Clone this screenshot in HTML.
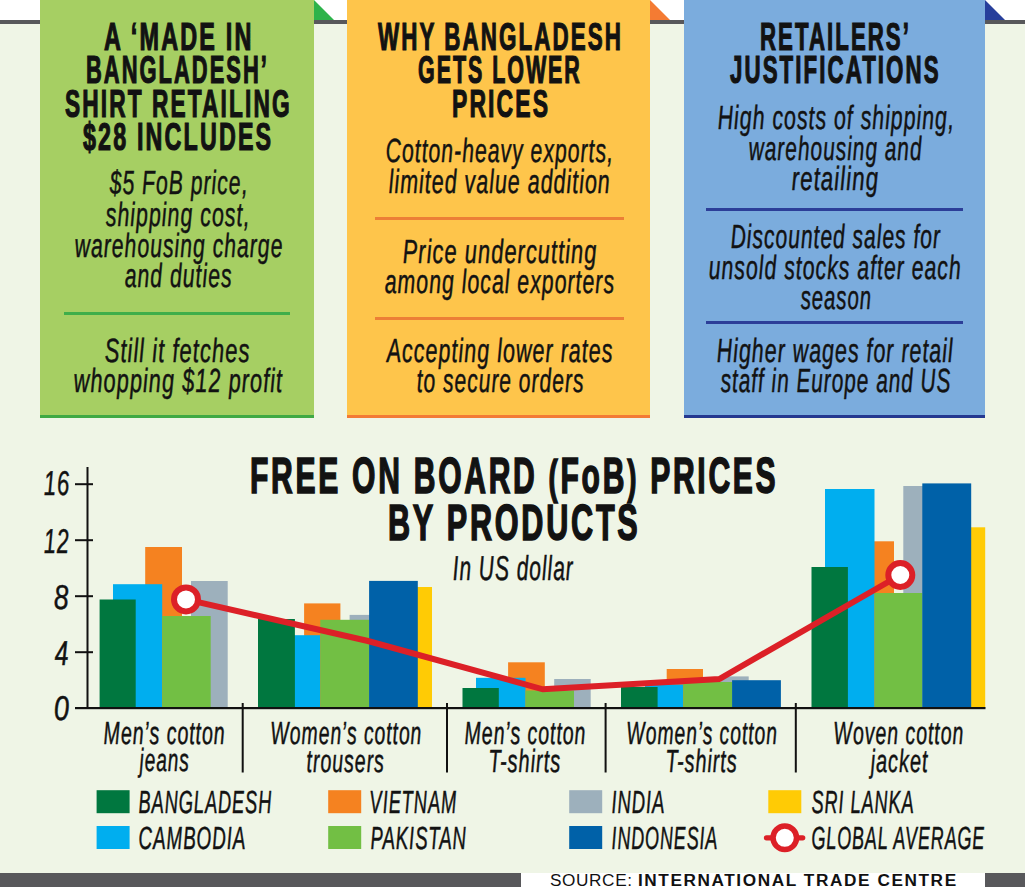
<!DOCTYPE html>
<html><head><meta charset="utf-8"><title>FoB prices infographic</title>
<style>
html,body{margin:0;padding:0;}
body{width:1025px;height:894px;position:relative;overflow:hidden;background:#fff;}
.blk{position:absolute;}
.t{position:absolute;transform-origin:0 0;}

.t{white-space:nowrap;color:#121212;}
.H{font-family:"Liberation Sans",sans-serif;font-weight:700;-webkit-text-stroke:1.2px #121212;letter-spacing:3.5px;}
.T{font-family:"Liberation Sans",sans-serif;font-weight:700;-webkit-text-stroke:1.6px #121212;letter-spacing:4.5px;}
.B{font-family:"Liberation Sans",sans-serif;font-style:italic;font-weight:400;letter-spacing:1.5px;-webkit-text-stroke:0.5px #121212;}
.S{font-family:"Liberation Sans",sans-serif;font-weight:400;letter-spacing:0.6px;color:#111;}
.S b{font-weight:700;letter-spacing:1.6px;}

.src{position:absolute;font-family:"Liberation Sans",sans-serif;font-size:16px;line-height:16px;white-space:nowrap;color:#111;transform-origin:0 0;}
</style></head>
<body>
<div class="blk" style="left:0;top:24px;width:1025px;height:849px;background:#eff5e6"></div>
<div class="blk" style="left:0;top:20px;width:1025px;height:4px;background:#58585b"></div>
<svg width="1025" height="30" style="position:absolute;left:0;top:0"><polygon points="314,0 314,20 334,20" fill="#2db34a"/><polygon points="650,0 650,20 670,20" fill="#f47b33"/><polygon points="985,0 985,20 1005,20" fill="#273f9b"/></svg>
<div class="blk" style="left:40px;top:0;width:274px;height:415px;background:#a6cf63"></div>
<div class="blk" style="left:40px;top:415px;width:274px;height:3px;background:#3fa944"></div>
<div class="blk" style="left:64px;top:312px;width:226px;height:3px;background:#3fae4a"></div>
<div class="blk" style="left:347px;top:0;width:303px;height:415px;background:#fec54b"></div>
<div class="blk" style="left:347px;top:415px;width:303px;height:3px;background:#f37a35"></div>
<div class="blk" style="left:374.6px;top:217.4px;width:249px;height:3px;background:#ec7f36"></div>
<div class="blk" style="left:374.6px;top:316.9px;width:249px;height:3px;background:#ec7f36"></div>
<div class="blk" style="left:684px;top:0;width:301px;height:415px;background:#7bacdd"></div>
<div class="blk" style="left:684px;top:415px;width:301px;height:3px;background:#243890"></div>
<div class="blk" style="left:706px;top:207.8px;width:257px;height:3px;background:#2c3e98"></div>
<div class="blk" style="left:706px;top:321.4px;width:257px;height:3px;background:#2c3e98"></div>
<svg width="1025" height="894" style="position:absolute;left:0;top:0"><rect x="86.5" y="467" width="2" height="242" fill="#111"/><rect x="75" y="483.2" width="18" height="2" fill="#111"/><rect x="75" y="539.2" width="18" height="2" fill="#111"/><rect x="75" y="595.2" width="18" height="2" fill="#111"/><rect x="75" y="651.2" width="18" height="2" fill="#111"/><rect x="145.2" y="547.0" width="36.80" height="161.00" fill="#f58220"/><rect x="191.0" y="581.0" width="36.70" height="127.00" fill="#9db0bc"/><rect x="113.0" y="584.2" width="49.20" height="123.80" fill="#00aeef"/><rect x="99.6" y="599.5" width="36.10" height="108.50" fill="#00773f"/><rect x="162.2" y="616.0" width="48.50" height="92.00" fill="#72bf44"/><rect x="304.1" y="603.4" width="36.30" height="104.60" fill="#f58220"/><rect x="349.6" y="614.9" width="30.40" height="93.10" fill="#9db0bc"/><rect x="400.0" y="587.0" width="32.00" height="121.00" fill="#ffcb05"/><rect x="285.0" y="635.2" width="35.30" height="72.80" fill="#00aeef"/><rect x="258.0" y="619.0" width="36.90" height="89.00" fill="#00773f"/><rect x="320.3" y="619.8" width="48.80" height="88.20" fill="#72bf44"/><rect x="369.1" y="580.9" width="48.70" height="127.10" fill="#0061a8"/><rect x="508.1" y="662.3" width="36.70" height="45.70" fill="#f58220"/><rect x="554.2" y="679.0" width="36.50" height="29.00" fill="#9db0bc"/><rect x="476.0" y="677.8" width="49.50" height="30.20" fill="#00aeef"/><rect x="462.5" y="688.0" width="36.30" height="20.00" fill="#00773f"/><rect x="525.5" y="690.5" width="48.50" height="17.50" fill="#72bf44"/><rect x="666.7" y="669.0" width="36.30" height="39.00" fill="#f58220"/><rect x="721.0" y="676.4" width="27.70" height="31.60" fill="#9db0bc"/><rect x="645.0" y="684.5" width="38.30" height="23.50" fill="#00aeef"/><rect x="621.0" y="687.0" width="36.60" height="21.00" fill="#00773f"/><rect x="683.3" y="682.0" width="48.80" height="26.00" fill="#72bf44"/><rect x="732.1" y="680.2" width="48.80" height="27.80" fill="#0061a8"/><rect x="857.0" y="541.3" width="37.00" height="166.70" fill="#f58220"/><rect x="903.3" y="486.0" width="36.70" height="222.00" fill="#9db0bc"/><rect x="950.0" y="527.3" width="35.20" height="180.70" fill="#ffcb05"/><rect x="825.0" y="489.0" width="49.50" height="219.00" fill="#00aeef"/><rect x="811.5" y="567.0" width="36.40" height="141.00" fill="#00773f"/><rect x="874.5" y="593.0" width="47.80" height="115.00" fill="#72bf44"/><rect x="922.3" y="483.4" width="48.90" height="224.60" fill="#0061a8"/><rect x="75" y="707" width="910.5" height="2.2" fill="#111"/><rect x="241.7" y="703" width="2" height="69.5" fill="#111"/><rect x="446.0" y="703" width="2" height="69.5" fill="#111"/><rect x="604.6" y="703" width="2" height="69.5" fill="#111"/><rect x="794.8" y="703" width="2" height="69.5" fill="#111"/><polyline points="186.0,599.4 368.0,641.0 542.8,689.3 719.3,679.0 900.3,575.0" fill="none" stroke="#dc2027" stroke-width="6" stroke-linejoin="miter"/><circle cx="186.0" cy="599.4" r="12" fill="#fff" stroke="#dc2027" stroke-width="6"/><circle cx="900.3" cy="575.0" r="12" fill="#fff" stroke="#dc2027" stroke-width="6"/><rect x="96.6" y="790.2" width="33" height="23" fill="#00773f"/><rect x="96.6" y="826.0" width="33" height="23" fill="#00aeef"/><rect x="328.2" y="790.2" width="33" height="23" fill="#f58220"/><rect x="328.2" y="826.0" width="33" height="23" fill="#72bf44"/><rect x="569.2" y="790.2" width="33" height="23" fill="#9db0bc"/><rect x="569.2" y="826.0" width="33" height="23" fill="#0061a8"/><rect x="768.3" y="790.2" width="33" height="23" fill="#ffcb05"/><line x1="766.5" y1="837.8" x2="802.7" y2="837.8" stroke="#dc2027" stroke-width="5.3" stroke-linecap="round"/><circle cx="784.8" cy="837.8" r="11.75" fill="#fff" stroke="#dc2027" stroke-width="5.5"/></svg>
<div class="blk" style="left:0;top:873px;width:520.5px;height:13.5px;background:#58585b"></div>
<div class="blk" style="left:985px;top:873px;width:40px;height:13.5px;background:#58585b"></div>
<div class="t H" style="left:104.30px;top:18.10px;font-size:38px;line-height:38px;transform:scaleX(0.6165) ">A ‘MADE IN</div>
<div class="t H" style="left:85.75px;top:51.00px;font-size:38px;line-height:38px;transform:scaleX(0.5765) ">BANGLADESH’</div>
<div class="t H" style="left:64.60px;top:84.90px;font-size:38px;line-height:38px;transform:scaleX(0.5981) ">SHIRT RETAILING</div>
<div class="t H" style="left:83.00px;top:118.00px;font-size:38px;line-height:38px;transform:scaleX(0.6134) ">$28 INCLUDES</div>
<div class="t B" style="left:108.57px;top:166.30px;font-size:33.5px;line-height:33.5px;transform:scaleX(0.6346) skewX(3deg)">$5 FoB price,</div>
<div class="t B" style="left:105.06px;top:197.50px;font-size:33.5px;line-height:33.5px;transform:scaleX(0.6407) skewX(3deg)">shipping cost,</div>
<div class="t B" style="left:73.63px;top:228.70px;font-size:33.5px;line-height:33.5px;transform:scaleX(0.6351) skewX(3deg)">warehousing charge</div>
<div class="t B" style="left:123.63px;top:258.80px;font-size:33.5px;line-height:33.5px;transform:scaleX(0.6361) skewX(3deg)">and duties</div>
<div class="t B" style="left:104.28px;top:333.50px;font-size:33.5px;line-height:33.5px;transform:scaleX(0.6583) skewX(3deg)">Still it fetches</div>
<div class="t B" style="left:72.59px;top:363.70px;font-size:33.5px;line-height:33.5px;transform:scaleX(0.6527) skewX(3deg)">whopping $12 profit</div>
<div class="t H" style="left:378.39px;top:17.90px;font-size:38px;line-height:38px;transform:scaleX(0.5893) ">WHY BANGLADESH</div>
<div class="t H" style="left:418.04px;top:51.00px;font-size:38px;line-height:38px;transform:scaleX(0.5640) ">GETS LOWER</div>
<div class="t H" style="left:451.69px;top:84.70px;font-size:38px;line-height:38px;transform:scaleX(0.6038) ">PRICES</div>
<div class="t B" style="left:385.09px;top:133.50px;font-size:33.5px;line-height:33.5px;transform:scaleX(0.6354) skewX(3deg)">Cotton-heavy exports,</div>
<div class="t B" style="left:388.22px;top:164.50px;font-size:33.5px;line-height:33.5px;transform:scaleX(0.6421) skewX(3deg)">limited value addition</div>
<div class="t B" style="left:402.19px;top:234.80px;font-size:33.5px;line-height:33.5px;transform:scaleX(0.6558) skewX(3deg)">Price undercutting</div>
<div class="t B" style="left:383.82px;top:264.50px;font-size:33.5px;line-height:33.5px;transform:scaleX(0.6380) skewX(3deg)">among local exporters</div>
<div class="t B" style="left:386.30px;top:333.70px;font-size:33.5px;line-height:33.5px;transform:scaleX(0.6450) skewX(3deg)">Accepting lower rates</div>
<div class="t B" style="left:415.54px;top:363.70px;font-size:33.5px;line-height:33.5px;transform:scaleX(0.6304) skewX(3deg)">to secure orders</div>
<div class="t H" style="left:760.33px;top:18.00px;font-size:38px;line-height:38px;transform:scaleX(0.5849) ">RETAILERS’</div>
<div class="t H" style="left:730.20px;top:51.00px;font-size:38px;line-height:38px;transform:scaleX(0.5873) ">JUSTIFICATIONS</div>
<div class="t B" style="left:716.92px;top:100.50px;font-size:33.5px;line-height:33.5px;transform:scaleX(0.6383) skewX(3deg)">High costs of shipping,</div>
<div class="t B" style="left:747.55px;top:131.80px;font-size:33.5px;line-height:33.5px;transform:scaleX(0.6264) skewX(3deg)">warehousing and</div>
<div class="t B" style="left:790.66px;top:161.50px;font-size:33.5px;line-height:33.5px;transform:scaleX(0.6680) skewX(3deg)">retailing</div>
<div class="t B" style="left:729.74px;top:219.50px;font-size:33.5px;line-height:33.5px;transform:scaleX(0.6304) skewX(3deg)">Discounted sales for</div>
<div class="t B" style="left:708.33px;top:250.50px;font-size:33.5px;line-height:33.5px;transform:scaleX(0.6372) skewX(3deg)">unsold stocks after each</div>
<div class="t B" style="left:799.59px;top:280.50px;font-size:33.5px;line-height:33.5px;transform:scaleX(0.6105) skewX(3deg)">season</div>
<div class="t B" style="left:715.82px;top:333.80px;font-size:33.5px;line-height:33.5px;transform:scaleX(0.6413) skewX(3deg)">Higher wages for retail</div>
<div class="t B" style="left:720.28px;top:363.60px;font-size:33.5px;line-height:33.5px;transform:scaleX(0.6236) skewX(3deg)">staff in Europe and US</div>
<div class="t T" style="left:250.00px;top:451.10px;font-size:50px;line-height:50px;transform:scaleX(0.6016) ">FREE ON BOARD <span style="font-size:92%">(</span>FoB<span style="font-size:92%">)</span> PRICES</div>
<div class="t T" style="left:387.98px;top:498.00px;font-size:50px;line-height:50px;transform:scaleX(0.6121) ">BY PRODUCTS</div>
<div class="t B" style="left:451.97px;top:550.60px;font-size:34.5px;line-height:34.5px;transform:scaleX(0.6107) skewX(3deg)">In US dollar</div>
<div class="t B" style="left:42.72px;top:466.00px;font-size:34.5px;line-height:34.5px;transform:scaleX(0.6410) skewX(3deg)">16</div>
<div class="t B" style="left:43.23px;top:523.80px;font-size:34.5px;line-height:34.5px;transform:scaleX(0.6342) skewX(3deg)">12</div>
<div class="t B" style="left:53.17px;top:579.50px;font-size:34.5px;line-height:34.5px;transform:scaleX(0.7667) skewX(3deg)">8</div>
<div class="t B" style="left:54.28px;top:635.90px;font-size:34.5px;line-height:34.5px;transform:scaleX(0.7222) skewX(3deg)">4</div>
<div class="t B" style="left:53.11px;top:690.50px;font-size:34.5px;line-height:34.5px;transform:scaleX(0.7944) skewX(3deg)">0</div>
<div class="t B" style="left:103.07px;top:716.60px;font-size:32px;line-height:32px;transform:scaleX(0.6138) skewX(3deg)">Men’s cotton</div>
<div class="t B" style="left:138.79px;top:743.90px;font-size:32px;line-height:32px;transform:scaleX(0.5965) skewX(3deg)">jeans</div>
<div class="t B" style="left:270.08px;top:716.60px;font-size:32px;line-height:32px;transform:scaleX(0.6073) skewX(3deg)">Women’s cotton</div>
<div class="t B" style="left:306.37px;top:744.50px;font-size:32px;line-height:32px;transform:scaleX(0.6128) skewX(3deg)">trousers</div>
<div class="t B" style="left:463.98px;top:716.60px;font-size:32px;line-height:32px;transform:scaleX(0.6123) skewX(3deg)">Men’s cotton</div>
<div class="t B" style="left:488.12px;top:744.50px;font-size:32px;line-height:32px;transform:scaleX(0.6268) skewX(3deg)">T-shirts</div>
<div class="t B" style="left:625.78px;top:716.60px;font-size:32px;line-height:32px;transform:scaleX(0.6053) skewX(3deg)">Women’s cotton</div>
<div class="t B" style="left:664.73px;top:744.50px;font-size:32px;line-height:32px;transform:scaleX(0.6232) skewX(3deg)">T-shirts</div>
<div class="t B" style="left:833.27px;top:716.60px;font-size:32px;line-height:32px;transform:scaleX(0.6115) skewX(3deg)">Woven cotton</div>
<div class="t B" style="left:869.55px;top:744.50px;font-size:32px;line-height:32px;transform:scaleX(0.6263) skewX(3deg)">jacket</div>
<div class="t B" style="left:138.06px;top:786.00px;font-size:32px;line-height:32px;transform:scaleX(0.5719) skewX(3deg)">BANGLADESH</div>
<div class="t B" style="left:138.02px;top:821.60px;font-size:32px;line-height:32px;transform:scaleX(0.5894) skewX(3deg)">CAMBODIA</div>
<div class="t B" style="left:369.38px;top:786.00px;font-size:32px;line-height:32px;transform:scaleX(0.5738) skewX(3deg)">VIETNAM</div>
<div class="t B" style="left:369.94px;top:821.60px;font-size:32px;line-height:32px;transform:scaleX(0.5822) skewX(3deg)">PAKISTAN</div>
<div class="t B" style="left:611.14px;top:786.00px;font-size:32px;line-height:32px;transform:scaleX(0.5789) skewX(3deg)">INDIA</div>
<div class="t B" style="left:611.17px;top:821.60px;font-size:32px;line-height:32px;transform:scaleX(0.5629) skewX(3deg)">INDONESIA</div>
<div class="t B" style="left:811.06px;top:786.00px;font-size:32px;line-height:32px;transform:scaleX(0.5695) skewX(3deg)">SRI LANKA</div>
<div class="t B" style="left:811.08px;top:821.60px;font-size:32px;line-height:32px;transform:scaleX(0.5616) skewX(3deg)">GLOBAL AVERAGE</div>
<div class="t S" style="left:549.71px;top:871.80px;font-size:17.4px;line-height:17.4px;transform:scaleX(0.9897) ">SOURCE: <b>INTERNATIONAL TRADE CENTRE</b></div>
</body></html>
